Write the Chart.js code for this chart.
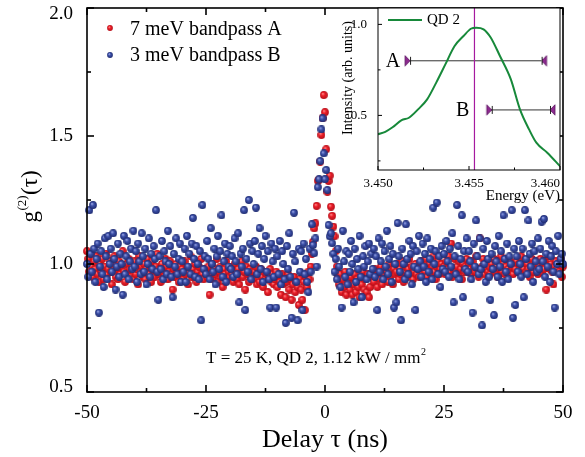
<!DOCTYPE html>
<html><head><meta charset="utf-8">
<script src="https://cdn.jsdelivr.net/npm/chart.js@4.4.1/dist/chart.umd.min.js"></script>
<style>
html,body{margin:0;padding:0;background:#fff;}
#wrap{position:relative;width:585px;height:457px;overflow:hidden;}
#main{position:absolute;left:0;top:0;}
#inset{position:absolute;left:335px;top:0;}
</style></head><body>
<div id="wrap"><canvas id="main" width="585" height="457"></canvas><canvas id="inset" width="250" height="205"></canvas></div>
<script>
// ---------------- data ----------------
const delayStart = -50;      // first delay bin (ns)
const delayStep = 0.25;      // bin width (ns)
// g2 values, 7 meV bandpass A (red)
const seriesA = [
1.05,1.02,0.97,1.04,0.99,0.95,1.01,0.98,1.03,0.96,0.93,1.00,0.97,1.02,0.94,0.99,1.04,0.96,0.98,1.01,
0.97,0.92,1.00,1.03,0.95,0.98,0.94,1.01,0.96,0.99,1.05,0.97,0.93,1.00,0.96,1.02,0.98,0.95,0.99,0.94,
1.01,0.96,0.98,0.92,1.03,0.97,0.99,0.95,1.00,0.94,0.98,1.02,0.96,0.99,0.93,1.01,0.97,0.95,0.99,1.04,
0.96,0.98,0.93,1.00,0.97,0.95,1.02,0.99,0.94,0.97,1.01,0.96,0.90,0.98,0.95,1.00,0.97,0.93,0.99,0.96,
0.98,0.94,1.01,0.96,0.99,0.92,0.97,1.03,0.95,0.98,0.96,1.00,0.93,0.97,0.99,0.95,1.02,0.96,0.94,0.98,
0.97,0.95,0.99,0.88,0.96,1.00,0.94,0.98,0.96,1.02,0.93,0.97,0.99,0.95,0.91,0.98,0.96,1.01,0.94,0.97,
0.95,0.99,0.96,0.93,1.00,0.97,0.94,0.98,0.92,0.96,1.01,0.95,0.97,0.90,0.99,0.96,0.93,0.98,0.95,0.97,
0.94,0.97,0.99,0.92,0.96,0.93,0.98,0.95,0.91,0.97,0.94,0.96,0.89,0.95,0.98,0.93,0.96,0.92,0.94,0.97,
0.91,0.95,0.93,0.88,0.96,0.92,0.94,0.87,0.93,0.96,0.90,0.94,0.86,0.92,0.95,0.89,0.93,0.91,0.84,0.94,
0.90,0.86,0.93,0.82,0.95,0.91,0.97,0.94,0.99,1.04,1.087,1.139,1.159,1.227,1.325,1.33,1.40,1.504,1.57,1.66,
1.593,1.448,1.282,1.324,1.345,1.224,1.188,1.146,1.108,1.05,0.99,0.95,0.92,0.96,0.89,0.94,0.91,0.97,0.88,0.93,
0.93,0.90,0.95,0.88,0.92,0.96,0.89,0.94,0.91,0.87,0.95,0.92,0.97,0.90,0.94,0.89,0.96,0.87,0.91,0.95,
0.96,0.93,0.98,0.95,0.91,0.97,0.94,0.99,0.92,0.96,0.98,0.94,0.97,0.93,1.00,0.95,0.97,0.92,0.98,0.96,
0.97,1.00,0.94,0.98,0.96,1.01,0.93,0.97,0.99,0.95,0.98,1.02,0.96,0.99,0.94,0.97,1.00,0.96,0.98,0.95,
0.98,1.01,0.96,0.99,0.97,1.02,0.95,0.98,1.00,0.96,0.99,1.03,0.97,0.94,0.99,1.01,0.96,0.98,1.00,0.97,
0.99,0.96,1.01,0.98,1.03,0.97,1.08,0.95,0.98,1.02,0.97,0.99,0.96,1.01,0.98,0.94,1.00,0.97,0.99,1.02,
0.97,1.00,0.98,0.96,1.01,0.99,0.97,1.03,0.98,0.95,1.10,0.97,0.99,1.02,0.96,0.98,1.01,0.97,0.99,0.96,
1.00,0.98,1.02,0.97,0.99,0.95,1.01,0.98,1.03,0.97,1.00,0.96,0.99,1.02,0.98,0.97,1.01,0.99,0.96,1.00,
0.98,1.01,0.97,1.00,0.99,1.03,0.96,0.98,1.01,0.97,1.00,0.98,0.95,0.99,1.02,0.97,0.99,1.01,0.98,0.96,
0.99,1.02,0.97,1.00,0.98,1.01,0.90,0.99,1.03,0.98,1.00,0.97,0.92,0.99,1.01,0.98,1.00,0.97,1.02,0.95,
0.99];
// g2 values, 3 meV bandpass B (blue)
const seriesB = [
1.00,0.95,1.21,1.04,0.97,1.23,1.06,0.93,1.02,1.08,0.81,0.99,1.05,0.96,0.91,1.10,1.03,0.94,1.11,1.00,
1.06,0.97,1.12,1.02,0.90,0.99,1.08,0.95,1.04,1.00,0.88,1.11,0.96,1.03,1.09,0.94,1.01,1.06,0.98,1.13,
0.99,1.05,0.93,1.08,1.01,0.96,1.12,1.03,0.97,1.06,0.92,1.00,1.10,0.95,1.04,0.98,1.07,1.02,1.21,0.97,
0.86,1.03,0.98,1.09,0.94,1.05,1.01,0.96,1.13,1.00,1.07,0.95,0.87,1.04,0.99,1.10,0.96,1.02,1.08,0.93,
1.01,0.97,1.06,0.93,1.11,0.99,1.04,0.96,1.08,1.18,1.02,0.95,1.07,1.00,0.94,1.05,0.78,1.23,0.98,1.03,
0.96,1.09,1.02,0.94,1.14,1.00,0.97,1.06,0.92,1.03,1.11,0.98,1.05,1.19,0.95,1.01,1.08,0.93,1.04,0.99,
1.07,0.98,1.03,0.95,1.10,1.01,0.96,1.12,0.85,1.04,0.99,1.06,1.21,0.82,1.02,0.97,1.25,1.08,0.94,1.05,
1.00,1.09,1.22,0.96,1.04,1.14,0.98,1.07,0.93,1.02,1.11,0.97,1.05,0.94,0.83,1.08,1.01,0.95,1.06,0.83,
1.03,0.96,1.09,0.92,1.05,1.00,0.94,0.77,1.07,0.98,1.12,0.95,0.79,1.04,1.20,1.01,0.93,0.78,1.06,0.97,
1.05,0.82,1.08,0.96,1.02,0.93,0.89,1.06,0.97,1.155,1.074,1.042,1.10,0.99,1.30,1.331,1.402,1.526,1.569,1.432,
1.331,1.367,1.289,1.152,1.108,1.12,1.081,1.04,0.97,1.02,0.94,1.06,0.99,0.91,0.83,1.13,1.01,0.95,1.05,0.92,
1.04,0.97,1.09,1.00,0.85,1.06,0.93,1.02,0.98,1.11,0.95,0.87,1.03,0.99,1.07,0.94,1.01,1.08,0.96,1.04,
0.98,1.06,0.95,1.03,0.82,1.10,0.97,1.01,1.08,0.94,1.05,0.99,1.13,0.96,1.02,1.07,0.93,1.04,0.83,1.00,
0.85,1.16,1.03,0.97,0.78,1.06,1.00,0.94,1.155,1.02,0.96,1.09,1.04,0.92,1.07,0.99,0.82,1.05,0.98,1.11,
1.01,0.95,1.08,0.99,1.04,0.93,1.10,0.97,1.02,1.06,0.94,1.22,1.00,1.05,1.24,0.96,1.03,0.91,1.07,0.98,
1.04,0.97,1.09,1.01,0.95,1.06,0.99,1.12,0.85,1.03,0.96,1.23,1.07,0.94,1.02,1.19,0.87,1.05,0.98,1.10,
0.97,1.05,1.01,0.94,0.81,1.08,0.99,1.17,1.03,0.96,1.10,0.98,0.76,1.06,1.00,0.93,1.09,1.02,0.95,0.86,
1.04,0.98,0.80,1.07,1.01,0.95,1.11,0.99,1.05,0.93,1.19,1.02,0.97,1.08,0.94,1.03,1.00,1.21,0.79,1.06,
0.84,1.03,0.97,1.09,1.00,0.95,1.06,0.87,1.21,1.02,0.96,1.17,1.04,0.99,1.08,0.93,1.05,1.01,0.97,1.10,
0.98,1.06,1.165,1.01,1.176,0.95,1.04,0.99,1.09,0.93,1.03,1.07,0.97,0.83,1.05,1.00,1.11,0.96,1.02,1.04,
1.00];
const seriesNames = ['7 meV bandpass A', '3 meV bandpass B'];
const xTickValues = [-50, -25, 0, 25, 50];
const xMinorValues = [-37.5, -12.5, 12.5, 37.5];
const yTickValues = [0.5, 1.0, 1.5, 2.0];
const yMinorValues = [0.75, 1.25, 1.75];

// inset: QD 2 spectrum
const insetEnergy = [3.4500,3.4504,3.4508,3.4513,3.4517,3.4522,3.4527,3.4532,3.4537,3.4542,3.4547,3.4551,3.4554,3.4558,3.4562,3.4567,3.4573,3.4578,3.4583,3.4587,3.4593,3.4600];
const insetIntensity = [0.396,0.410,0.435,0.474,0.487,0.533,0.588,0.680,0.780,0.880,0.936,0.976,0.982,0.973,0.927,0.826,0.698,0.533,0.423,0.350,0.295,0.221];
const qdPeakEnergy = 3.4553;
const bandAEdges = [3.45176, 3.45899]; const bandALevel = 0.80;
const bandBEdges = [3.45625, 3.45945]; const bandBLevel = 0.53;
const insetXTicks = [3.450, 3.455, 3.460];
const insetXMinor = [3.4525, 3.4575];
const insetYTicks = [0.5, 1.0];
const insetYMinor = [0.25, 0.75];

// ---------------- helpers ----------------
const SERIF = '"Liberation Serif", "Times New Roman", Times, serif';
Chart.defaults.font.family = SERIF;
Chart.defaults.color = '#000';

function ball(hi, mid, dark, d) {
  const c = document.createElement('canvas'); c.width = d; c.height = d;
  const g = c.getContext('2d'); const r = d / 2;
  const gr = g.createRadialGradient(r * 0.72, r * 0.66, 0.2, r, r, r);
  gr.addColorStop(0, hi); gr.addColorStop(0.4, mid); gr.addColorStop(1, dark);
  g.fillStyle = gr; g.beginPath(); g.arc(r, r, r - 0.1, 0, Math.PI * 2); g.fill();
  return c;
}
const redBall = ball('#ff8e8e', '#ec1e28', '#b3101a', 8);
const blueBall = ball('#9eaae6', '#3b4fa8', '#1f2b70', 8);
const redBallSmall = ball('#ff8e8e', '#ec1e28', '#b3101a', 6);
const blueBallSmall = ball('#9eaae6', '#3b4fa8', '#1f2b70', 6);

function bracket(dir) { // dir=+1: triangle left of point pointing right; -1 mirrored
  const w = 14, h = 12;
  const c = document.createElement('canvas'); c.width = w; c.height = h;
  const g = c.getContext('2d');
  const tip = w / 2, base = dir > 0 ? tip - 5 : tip + 5;
  g.fillStyle = '#8d2a8f'; g.strokeStyle = '#5a1460'; g.lineWidth = 0.8;
  g.beginPath(); g.moveTo(base, 0.8); g.lineTo(tip, h / 2); g.lineTo(base, h - 0.8); g.closePath(); g.fill(); g.stroke();
  g.strokeStyle = '#222'; g.lineWidth = 1;
  g.beginPath(); g.moveTo(tip + 0.5, 2); g.lineTo(tip + 0.5, h - 2); g.stroke();
  return c;
}
const triRight = bracket(1), triLeft = bracket(-1);

function tickFramePlugin(id) {
  return {
    id,
    afterDatasetsDraw(chart, args, o) {
      const { ctx, chartArea: a, scales: { x, y } } = chart;
      ctx.save();
      ctx.strokeStyle = '#000'; ctx.lineWidth = o.lw;
      const seg = (x1, y1, x2, y2) => { ctx.beginPath(); ctx.moveTo(x1, y1); ctx.lineTo(x2, y2); ctx.stroke(); };
      o.xMarks.forEach(([v, len]) => { const p = x.getPixelForValue(v);
        seg(p, a.bottom, p, a.bottom - len); if (o.top) seg(p, a.top, p, a.top + len); });
      o.yMarks.forEach(([v, len]) => { const p = y.getPixelForValue(v);
        seg(a.left, p, a.left + len, p); if (o.right) seg(a.right, p, a.right - len, p); });
      ctx.strokeRect(a.left, a.top, a.right - a.left, a.bottom - a.top);
      ctx.restore();
    }
  };
}

const delays = seriesA.map((_, i) => delayStart + i * delayStep);

// ---------------- main chart ----------------
const mainDecor = {
  id: 'mainDecor',
  beforeDraw(chart) {
    // pull the end labels of the g2 axis inside the frame
    chart.scales.y.getLabelItems().forEach(it => {
      if (it.label === '2.0') it.options.translation[1] += 6;
      if (it.label === '0.5') it.options.translation[1] -= 5;
    });
  },
  afterDraw(chart) {
    const { ctx } = chart;
    ctx.save();
    // legend
    ctx.font = '20px ' + SERIF; ctx.fillStyle = '#000'; ctx.textBaseline = 'middle'; ctx.textAlign = 'left';
    ctx.drawImage(redBallSmall, 110 - 3, 28 - 3); ctx.fillText(seriesNames[0], 130, 30);
    ctx.drawImage(blueBallSmall, 110 - 3, 55 - 3); ctx.fillText(seriesNames[1], 130, 56);
    // annotation
    ctx.font = '17px ' + SERIF; ctx.textBaseline = 'alphabetic';
    const t = 'T = 25 K, QD 2, 1.12 kW / mm';
    ctx.fillText(t, 206, 363);
    const tw = ctx.measureText(t).width;
    ctx.font = '10px ' + SERIF; ctx.fillText('2', 206 + tw + 0.5, 355);
    // y title g(2)(tau)
    ctx.translate(31, 197); ctx.rotate(-Math.PI / 2);
    const fBig = '23px ' + SERIF, fSmall = '13px ' + SERIF;
    ctx.font = fBig; const wg = ctx.measureText('g').width; const wt = ctx.measureText('(τ)').width;
    ctx.font = fSmall; const ws = ctx.measureText('(2)').width;
    let x0 = -(wg + ws + wt) / 2;
    ctx.textBaseline = 'alphabetic';
    ctx.font = fBig; ctx.fillText('g', x0, 6);
    ctx.font = fSmall; ctx.fillText('(2)', x0 + wg + 0.5, -5);
    ctx.font = fBig; ctx.fillText('(τ)', x0 + wg + ws + 1, 6);
    ctx.restore();
  }
};

new Chart(document.getElementById('main'), {
  type: 'scatter',
  data: {
    datasets: [
      { label: seriesNames[1], data: delays.map((t, i) => ({ x: t, y: seriesB[i] })),
        pointStyle: blueBall, pointRadius: 4, clip: 6 },
      { label: seriesNames[0], data: delays.map((t, i) => ({ x: t, y: seriesA[i] })),
        pointStyle: redBall, pointRadius: 4, clip: 6 }
    ]
  },
  options: {
    responsive: false, animation: false, devicePixelRatio: 1, events: [],
    layout: { padding: { left: 0, right: 22, top: 8, bottom: 0 } },
    plugins: {
      legend: { display: false }, tooltip: { enabled: false },
      mainFrame: { lw: 1.6, top: true, right: true,
        xMarks: xTickValues.map(v => [v, 7]).concat(xMinorValues.map(v => [v, 4])),
        yMarks: yTickValues.map(v => [v, 7]).concat(yMinorValues.map(v => [v, 4])) }
    },
    scales: {
      x: { type: 'linear', min: -50, max: 50,
        afterBuildTicks: s => { s.ticks = xTickValues.map(v => ({ value: v })); },
        grid: { display: false }, border: { display: false },
        ticks: { color: '#000', font: { family: SERIF, size: 19 }, padding: 2, maxRotation: 0, callback: v => String(v) },
        title: { display: true, text: 'Delay τ (ns)', color: '#000', font: { family: SERIF, size: 26 }, padding: { top: 0, bottom: 1 } },
        afterFit: s => { s.height = 65; s.paddingLeft = 0; s.paddingRight = 0; } },
      y: { type: 'linear', min: 0.5, max: 2.0,
        afterBuildTicks: s => { s.ticks = yTickValues.map(v => ({ value: v })); },
        grid: { display: false }, border: { display: false },
        ticks: { color: '#000', font: { family: SERIF, size: 19 }, padding: 6, callback: v => Number(v).toFixed(1) },
        afterFit: s => { s.width = 87; s.paddingTop = 0; s.paddingBottom = 0; } }
    }
  },
  plugins: [tickFramePlugin('mainFrame'), mainDecor]
});

// ---------------- inset chart ----------------
const insetDecor = {
  id: 'insetDecor',
  beforeDraw(chart) {
    const { ctx, chartArea: a } = chart;
    ctx.save(); ctx.fillStyle = '#fff'; ctx.fillRect(a.left, a.top, a.right - a.left, a.bottom - a.top); ctx.restore();
    // last energy label kept inside the frame
    const items = chart.scales.x.getLabelItems();
    if (items.length) items[items.length - 1].options.textAlign = 'right';
  },
  afterDraw(chart) {
    const { ctx, scales: { x, y } } = chart;
    ctx.save();
    ctx.fillStyle = '#000';
    // legend
    ctx.strokeStyle = '#17893a'; ctx.lineWidth = 2;
    ctx.beginPath(); ctx.moveTo(53, 20); ctx.lineTo(87, 20); ctx.stroke();
    ctx.font = '15px ' + SERIF; ctx.textBaseline = 'middle'; ctx.textAlign = 'left';
    ctx.fillText('QD 2', 92, 20);
    // A / B labels
    ctx.font = '20px ' + SERIF; ctx.textAlign = 'center';
    ctx.fillText('A', x.getPixelForValue(bandAEdges[0]) - 17, y.getPixelForValue(bandALevel) + 1);
    ctx.fillText('B', x.getPixelForValue(bandBEdges[0]) - 29, y.getPixelForValue(bandBLevel) + 1);
    // y title
    ctx.translate(13, 78); ctx.rotate(-Math.PI / 2);
    ctx.font = '14px ' + SERIF; ctx.textAlign = 'center'; ctx.textBaseline = 'middle';
    ctx.fillText('Intensity (arb. units)', 0, 0);
    ctx.restore();
  }
};

new Chart(document.getElementById('inset'), {
  type: 'line',
  data: {
    datasets: [
      { label: 'QD 2', data: insetEnergy.map((e, i) => ({ x: e, y: insetIntensity[i] })),
        borderColor: '#17893a', borderWidth: 2, pointRadius: 0, cubicInterpolationMode: 'monotone', fill: false },
      { label: 'peak', data: [{ x: qdPeakEnergy, y: 0.2 }, { x: qdPeakEnergy, y: 1.09 }],
        borderColor: '#a5199f', borderWidth: 1.2, pointRadius: 0 },
      { label: 'A', data: [{ x: bandAEdges[0], y: bandALevel }, { x: bandAEdges[1], y: bandALevel }],
        borderColor: '#333', borderWidth: 1, pointStyle: [triRight, triLeft], pointRadius: 6, clip: false },
      { label: 'B', data: [{ x: bandBEdges[0], y: bandBLevel }, { x: bandBEdges[1], y: bandBLevel }],
        borderColor: '#333', borderWidth: 1, pointStyle: [triRight, triLeft], pointRadius: 6, clip: false }
    ]
  },
  options: {
    responsive: false, animation: false, devicePixelRatio: 1, events: [],
    layout: { padding: { left: 0, right: 25, top: 8, bottom: 0 } },
    plugins: { legend: { display: false }, tooltip: { enabled: false },
      insetFrame: { lw: 1, top: false, right: false,
        xMarks: insetXTicks.map(v => [v, 4]).concat(insetXMinor.map(v => [v, 2.5])),
        yMarks: insetYTicks.map(v => [v, 4]).concat(insetYMinor.map(v => [v, 2.5])) } },
    scales: {
      x: { type: 'linear', min: 3.450, max: 3.460,
        afterBuildTicks: s => { s.ticks = insetXTicks.map(v => ({ value: v })); },
        grid: { display: false }, border: { display: false },
        ticks: { color: '#000', font: { family: SERIF, size: 13 }, padding: -2, maxRotation: 0, callback: v => Number(v).toFixed(3) },
        title: { display: true, text: 'Energy (eV)', align: 'end', color: '#000', font: { family: SERIF, size: 15 }, padding: { top: 0, bottom: 0 } },
        afterFit: s => { s.height = 35; s.paddingLeft = 0; s.paddingRight = 0; } },
      y: { type: 'linear', min: 0.2, max: 1.09,
        afterBuildTicks: s => { s.ticks = insetYTicks.map(v => ({ value: v })); },
        grid: { display: false }, border: { display: false },
        ticks: { color: '#000', font: { family: SERIF, size: 13 }, padding: 3, callback: v => Number(v).toFixed(1) },
        afterFit: s => { s.width = 43; s.paddingTop = 0; s.paddingBottom = 0; } }
    }
  },
  plugins: [tickFramePlugin('insetFrame'), insetDecor]
});
</script>
</body></html>
